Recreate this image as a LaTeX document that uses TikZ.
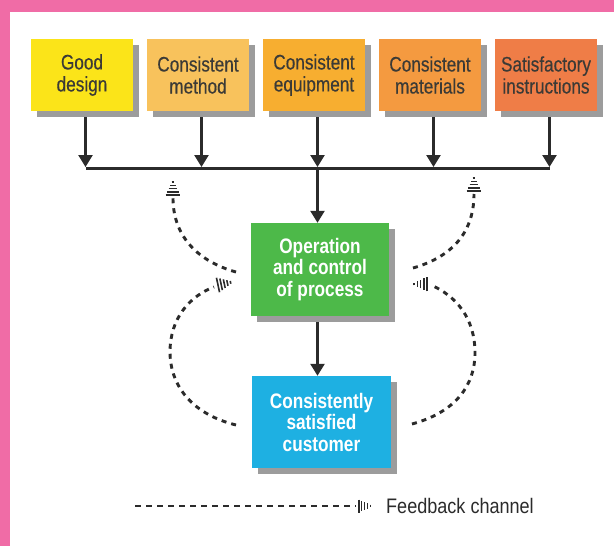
\documentclass[tikz,border=0pt]{standalone}
\usepackage{fontspec}
\usetikzlibrary{arrows.meta,shadows,calc}
\newfontfamily\cond[FakeStretch=0.82]{Liberation Sans}
\newfontfamily\condmed[FakeStretch=0.82,FakeBold=0.35]{Liberation Sans}
\newfontfamily\legf[FakeStretch=0.86]{Liberation Sans}
\definecolor{pinkbg}{HTML}{F06CA6}
\definecolor{cA}{HTML}{FBE419}
\definecolor{cB}{HTML}{F8C25C}
\definecolor{cC}{HTML}{F7AE30}
\definecolor{cD}{HTML}{F49A40}
\definecolor{cE}{HTML}{EF7D47}
\definecolor{cgreen}{HTML}{4DB949}
\definecolor{ccyan}{HTML}{1EB0E2}
\definecolor{shadowgray}{HTML}{9C9C9C}
\definecolor{txtdark}{HTML}{3B3A36}
\definecolor{ink}{HTML}{2B2B2B}
\tikzset{
  x=1pt, y=-1pt,
  topbox/.style={rectangle, inner sep=0pt, minimum width=102pt, minimum height=72pt,
    align=center, text=txtdark, font=\condmed\fontsize{21}{22}\selectfont,
    drop shadow={shadow xshift=6pt, shadow yshift=-6pt, fill=shadowgray, opacity=1}},
  midbox/.style={rectangle, inner sep=0pt, align=center, text=white,
    font=\cond\bfseries\fontsize{21}{21.5}\selectfont,
    drop shadow={shadow xshift=6pt, shadow yshift=-6pt, fill=shadowgray, opacity=1}},
  arr/.style={draw=ink, line width=2.4pt, -{Triangle[width=14pt,length=12pt]}},
  busline/.style={draw=ink, line width=3pt},
  fb/.style={draw=ink, line width=2.9pt, dash pattern=on 5pt off 5pt},
  legline/.style={draw=ink, line width=1.4pt, dash pattern=on 6pt off 5pt},
  htip/.pic={
    \foreach \i/\w in {0/7.4,3.2/5.9,6.4/4.4,9.6/2.9,12.8/1.4}
      \draw[ink, line width=1.6pt] (\i,-\w) -- (\i,\w);
  },
  htipsmall/.pic={
    \foreach \i/\w in {0/6.5,2.8/5.2,5.6/3.9,8.4/2.6,11.2/1.3}
      \draw[ink, line width=1.3pt] (\i,-\w) -- (\i,\w);
  }
}
\begin{document}
\begin{tikzpicture}
\useasboundingbox (0,0) rectangle (614,546);
\fill[pinkbg] (0,0) rectangle (614,546);
\fill[white] (10,12) rectangle (614,546);

% top boxes
\node[topbox, fill=cA] (b1) at (82,75) {Good\\design};
\node[topbox, fill=cB] (b2) at (198,75) {Consistent\\method};
\node[topbox, fill=cC] (b3) at (314,75) {Consistent\\equipment};
\node[topbox, fill=cD] (b4) at (430,75) {Consistent\\materials};
\node[topbox, fill=cE] (b5) at (546,75) {Satisfactory\\instructions};

% middle boxes
\node[midbox, fill=cgreen, minimum width=138pt, minimum height=93pt] (op) at (320,269.5) {Operation\\and control\\of process};
\node[midbox, fill=ccyan, minimum width=139pt, minimum height=92pt] (cu) at (321.5,422) {Consistently\\satisfied\\customer};

% bus
\coordinate (bus) at (0,168);
\coordinate (busL) at (85.5,168);
\coordinate (busR) at (549.5,168);
\draw[busline] (busL) -- (busR);
\foreach \b in {b1,b2,b3,b4,b5}
  \draw[arr] ($(\b.south)+(3.5,6)$) -- ($(\b.south |- bus)+(3.5,-1)$);
\coordinate (jc) at ($(b3.south |- bus)+(3.5,0)$);
\draw[arr] (jc) -- (jc |- op.north);
\draw[arr] ($(op.south)+(-2.5,6)$) -- ($(op.south |- cu.north)+(-2.5,0)$);

% feedback channels
\coordinate (ulS) at (236,272);
\coordinate (ulE) at (173,198);
\coordinate (llS) at (236,425);
\coordinate (llE) at (214,287);
\coordinate (urS) at (413,268);
\coordinate (urE) at (474,194);
\coordinate (lrS) at (412,424);
\coordinate (lrE) at (431,285);
\draw[fb] (ulS) .. controls (200,262) and (173,238) .. (ulE);
\draw[fb] (llS) .. controls (188,413) and (170,382) .. (170,352) .. controls (170,318) and (190,296) .. (llE);
\draw[fb] (urS) .. controls (448,258) and (474,236) .. (urE);
\draw[fb] (lrS) .. controls (456,412) and (475,385) .. (475,353) .. controls (475,318) and (456,296) .. (lrE);
\pic[rotate=90] at (173,195) {htip};
\pic[rotate=12] at (218,285) {htip};
\pic[rotate=90] at (474,191) {htip};
\pic[rotate=180] at (427,284) {htip};

% legend
\coordinate (lgS) at (135,506);
\coordinate (lgE) at (356,506);
\draw[legline] (lgS) -- (lgE);
\pic at (359,506) {htipsmall};
\node[anchor=west, inner sep=0pt, text=ink, font=\legf\fontsize{21}{22}\selectfont] (leg) at (386,506) {Feedback channel};
\end{tikzpicture}
\end{document}
